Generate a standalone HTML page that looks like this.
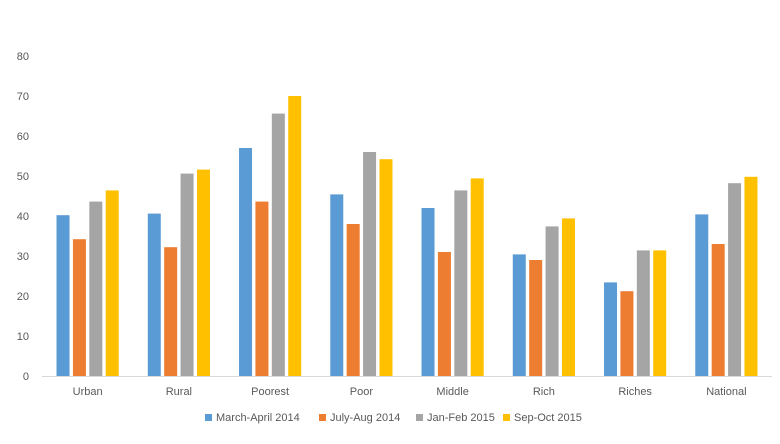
<!DOCTYPE html>
<html><head><meta charset="utf-8"><style>
body{margin:0;background:#fff;font-family:"Liberation Sans",sans-serif;}
svg text{font-family:"Liberation Sans",sans-serif;fill:#595959;font-size:11px;}
</style></head><body>
<svg id="chart" width="780" height="439"></svg>
<script>
const categories=["Urban","Rural","Poorest","Poor","Middle","Rich","Riches","National"];
const seriesNames=["March-April 2014","July-Aug 2014","Jan-Feb 2015","Sep-Oct 2015"];
const s1=[40.2,40.6,57,45.4,42,30.4,23.4,40.4];
const s2=[34.2,32.2,43.6,38,31,29,21.2,33];
const s3=[43.6,50.6,65.6,56,46.4,37.4,31.4,48.2];
const s4=[46.4,51.6,70,54.2,49.4,39.4,31.4,49.8];
const yTicks=[0,10,20,30,40,50,60,70,80];
const colors=["#5b9bd5","#ed7d31","#a5a5a5","#ffc000"];
const series=[s1,s2,s3,s4];
const svg=document.getElementById('chart');
const NS="http://www.w3.org/2000/svg";
const x0=42,x1=772,yb=376,yt=56,ymax=80;
const y=v=>yb-(v/ymax)*(yb-yt);
const cw=(x1-x0)/categories.length;
const xc=i=>x0+cw*(i+0.5);
function mk(t,a){const e=document.createElementNS(NS,t);for(const k in a)e.setAttribute(k,a[k]);svg.appendChild(e);return e;}
yTicks.forEach(t=>{const e=mk('text',{x:29,y:y(t)+4,'text-anchor':'end'});e.textContent=t;

});
const ax=mk('line',{x1:x0,x2:x1,y1:yb+0.5,y2:yb+0.5,stroke:'#d9d9d9','stroke-width':1});


const bw=13,pitch=16.4;
categories.forEach((c,i)=>{
 series.forEach((s,j)=>{
  const bx=xc(i)-2*pitch+j*pitch+(pitch-bw)/2;
  const r=mk('rect',{x:bx,y:y(s[i]),width:bw,height:yb-y(s[i]),fill:colors[j]});
  
  
 });
 const t=mk('text',{x:xc(i),y:395,'text-anchor':'middle'});t.textContent=c;
 
 
});
const lx=[205,319,416,503];
seriesNames.forEach((n,j)=>{
 const r=mk('rect',{x:lx[j],y:414,width:7,height:7,fill:colors[j]});
 
 
 const t=mk('text',{x:lx[j]+11,y:421});t.textContent=n;
 
 
});
</script>
</body></html>
